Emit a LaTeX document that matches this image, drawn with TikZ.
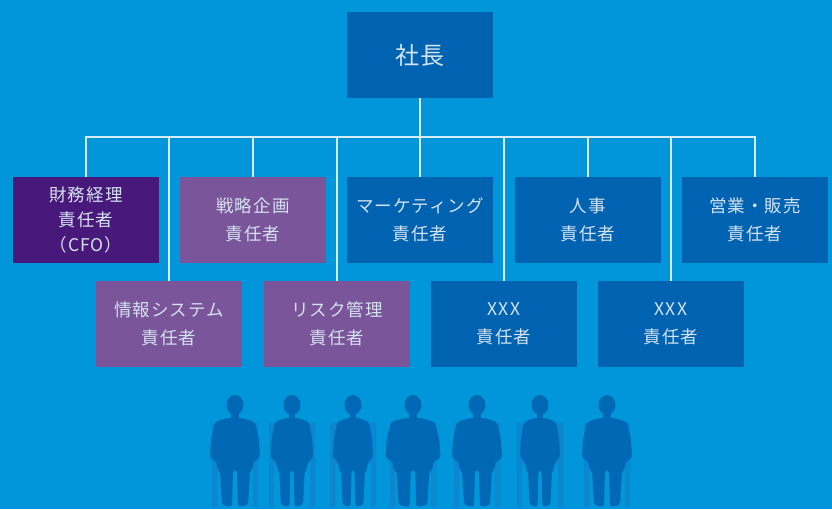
\documentclass[tikz,border=0pt]{standalone}
\usepackage{fontspec}
\setmainfont{Noto Sans CJK JP}[LetterSpace=6]
\usepackage{xcolor}
\definecolor{fondoaz}{RGB}{0, 150, 217}
\definecolor{cajaaz}{RGB}{0, 99, 177}
\definecolor{cajamor}{RGB}{72, 25, 122}
\definecolor{cajalila}{RGB}{122, 85, 153}
\definecolor{textocl}{RGB}{212, 226, 241}
\definecolor{lineacl}{RGB}{215, 236, 248}
\definecolor{personaz}{RGB}{0, 104, 180}
\definecolor{sillaaz}{RGB}{12, 134, 206}
\usepackage{tikz}
\usetikzlibrary{positioning}

\tikzset{
  cargo/.style={fill=cajaaz, minimum width=146pt, minimum height=86pt, inner sep=0pt,
    align=center, text=textocl, font=\fontsize{17.5}{28}\selectfont},
  linea/.style={draw=lineacl, line width=1.3pt},
}

\begin{document}
\begin{tikzpicture}[x=1pt, y=-1pt]
        \useasboundingbox (0,0) rectangle (832,509);
        \fill[fondoaz] (0,0) rectangle (832,509);

        % organigrama
        \node[cargo, font=\fontsize{24}{28}\selectfont] (shacho) at (420,55) {社長};
        \node[cargo, fill=cajamor, font=\fontsize{17.5}{25}\selectfont] (cfo) at (86,220) {財務経理\\責任者\\（CFO）};
        \node[cargo, fill=cajalila] (senryaku) at (253,220) {戦略企画\\責任者};
        \node[cargo] (marketing) at (420,220) {マーケティング\\責任者};
        \node[cargo] (jinji) at (588,220) {人事\\責任者};
        \node[cargo] (eigyo) at (755,220) {営業・販売\\責任者};
        \node[cargo, fill=cajalila] (joho) at (169,324) {情報システム\\責任者};
        \node[cargo, fill=cajalila] (risk) at (337,324) {リスク管理\\責任者};
        \node[cargo] (xxxa) at (504,324) {XXX\\責任者};
        \node[cargo] (xxxb) at (671,324) {XXX\\責任者};

        \coordinate (bus) at (420,137);
        \draw[linea] (shacho.south) -- (bus);
        \foreach \n in {cfo,senryaku,marketing,jinji,eigyo,joho,risk,xxxa,xxxb}
            \draw[linea] (\n.north) |- (bus);

        % sillas
        \foreach \px in {235,292,353,413,477,540,607}
            \fill[sillaaz] (\px-23,423) rectangle (\px+23,464)
                           (\px-23,464) rectangle (\px-18,507)
                           (\px+18,464) rectangle (\px+23,507);

        % personas sentadas
        \foreach \px/\s in {235/1, 292/0.85, 353/0.8, 413/1.1, 477/1, 540/0.8, 607/1} {
            \fill[personaz] (\px,405) ellipse (8.5 and 10);
            \begin{scope}[shift={(\px,0)}, xscale=\s]
                \fill[personaz] (-4,412) rectangle (4,421);
                \fill[personaz, rounded corners=3pt] (-7,418) -- (-20,422) -- (-24,440) -- (-25,458)
                    -- (-18,462) -- (-18,470) -- (-15,470) -- (-13,505) -- (-3,507) -- (-2,470)
                    -- (2,470) -- (3,507) -- (13,505) -- (15,470) -- (18,470) -- (18,462)
                    -- (25,458) -- (24,440) -- (20,422) -- (7,418) -- cycle;
            \end{scope}
        }
    \end{tikzpicture}
\end{document}
